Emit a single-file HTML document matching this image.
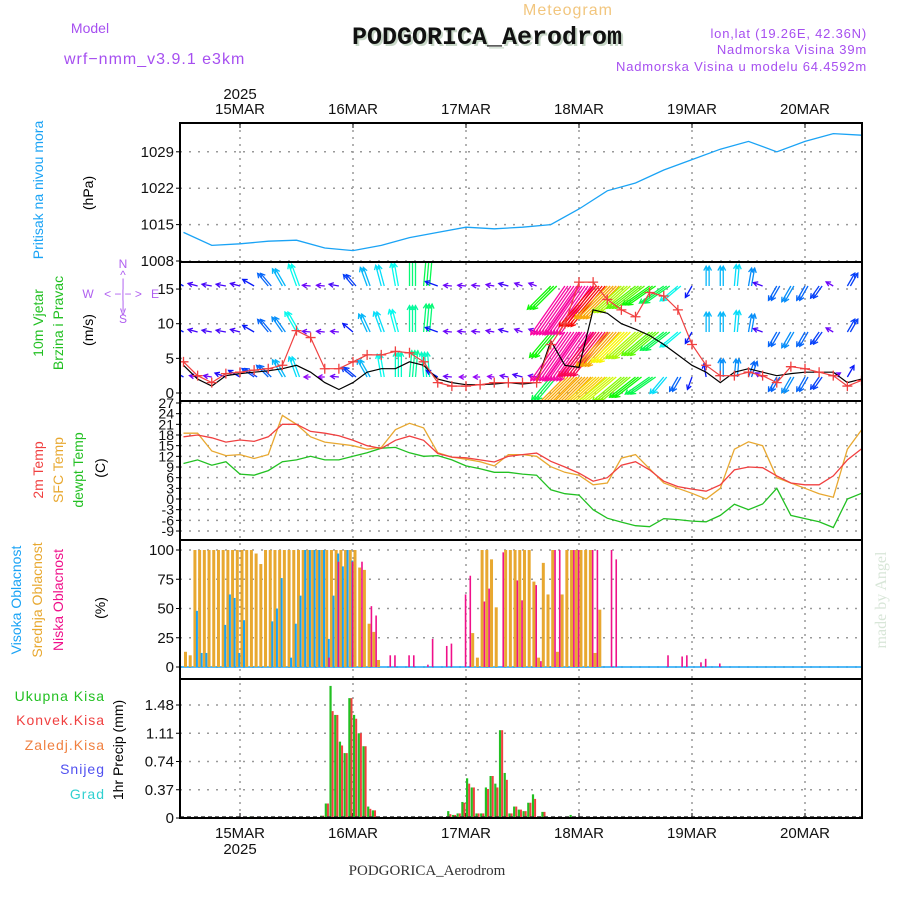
<!DOCTYPE html>
<html><head><meta charset="utf-8"><style>
html,body{margin:0;padding:0;background:#fff;}
#wrap{position:relative;width:900px;height:900px;overflow:hidden;font-family:"Liberation Sans",sans-serif;}
.mono{font-family:"Liberation Mono",monospace;}
.serif{font-family:"Liberation Serif",serif;}
</style></head><body>
<div id="wrap">
<svg id="chart" width="900" height="900" viewBox="0 0 900 900" xmlns="http://www.w3.org/2000/svg" font-family="Liberation Sans, sans-serif">
<g id="header">
<text x="568" y="15" font-size="16" fill="#f2c67e" text-anchor="middle" letter-spacing="1">Meteogram</text>
<text x="90" y="33" font-size="14" fill="#a64ff0" text-anchor="middle">Model</text>
<text x="64" y="64" font-size="16" fill="#a64ff0" letter-spacing="1">wrf−nmm_v3.9.1 e3km</text>
<text class="mono" x="487" y="44" font-size="25" font-weight="bold" fill="#c8d8c8" text-anchor="middle" transform="translate(2,2)">PODGORICA_Aerodrom</text>
<text class="mono" x="487" y="44" font-size="25" font-weight="bold" fill="#111" text-anchor="middle">PODGORICA_Aerodrom</text>
<text x="867" y="38" font-size="13" fill="#a64ff0" text-anchor="end" letter-spacing="0.8">lon,lat (19.26E, 42.36N)</text>
<text x="867" y="54" font-size="13" fill="#a64ff0" text-anchor="end" letter-spacing="0.8">Nadmorska Visina 39m</text>
<text x="867" y="71" font-size="13" fill="#a64ff0" text-anchor="end" letter-spacing="0.8">Nadmorska Visina u modelu 64.4592m</text>
</g>
<g id="leftlabels" font-size="14">
<text transform="translate(43,190) rotate(-90)" fill="#1aa3f5" text-anchor="middle">Pritisak na nivou mora</text>
<text transform="translate(93,193) rotate(-90)" fill="#000" text-anchor="middle">(hPa)</text>
<text transform="translate(43,323) rotate(-90)" fill="#22c022" text-anchor="middle">10m Vjetar</text>
<text transform="translate(63,323) rotate(-90)" fill="#22c022" text-anchor="middle">Brzina i Pravac</text>
<text transform="translate(93,330) rotate(-90)" fill="#000" text-anchor="middle">(m/s)</text>
<g fill="#b060f0" font-size="12" text-anchor="middle">
<text x="123" y="268">N</text><text x="123" y="279">^</text><text x="123" y="287">|</text>
<text x="88" y="298">W</text><text x="123" y="298">&lt;  −|−  &gt;</text><text x="155" y="298">E</text>
<text x="123" y="309">|</text><text x="123" y="315">v</text><text x="123" y="323">S</text>
</g>
<text transform="translate(43,470) rotate(-90)" fill="#f04040" text-anchor="middle">2m Temp</text>
<text transform="translate(63,470) rotate(-90)" fill="#e8a830" text-anchor="middle">SFC Temp</text>
<text transform="translate(83,470) rotate(-90)" fill="#22c022" text-anchor="middle">dewpt Temp</text>
<text transform="translate(105,468) rotate(-90)" fill="#000" text-anchor="middle">(C)</text>
<text transform="translate(21,600) rotate(-90)" fill="#1aa3f5" text-anchor="middle">Visoka Oblacnost</text>
<text transform="translate(42,600) rotate(-90)" fill="#e8a830" text-anchor="middle">Srednja Oblacnost</text>
<text transform="translate(63,600) rotate(-90)" fill="#f0108a" text-anchor="middle">Niska Oblacnost</text>
<text transform="translate(105,608) rotate(-90)" fill="#000" text-anchor="middle">(%)</text>
<text x="105" y="701" fill="#22c022" text-anchor="end" letter-spacing="1">Ukupna  Kisa</text>
<text x="105" y="725" fill="#f04040" text-anchor="end" letter-spacing="1">Konvek.Kisa</text>
<text x="105" y="750" fill="#f08040" text-anchor="end" letter-spacing="1">Zaledj.Kisa</text>
<text x="105" y="774" fill="#5050f0" text-anchor="end" letter-spacing="1">Snijeg</text>
<text x="105" y="799" fill="#30d0d0" text-anchor="end" letter-spacing="1">Grad</text>
<text transform="translate(123,750) rotate(-90)" fill="#000" text-anchor="middle">1hr Precip (mm)</text>
<text class="serif" transform="translate(886,600) rotate(-90)" fill="#d8e6d8" font-size="16" text-anchor="middle">made by Angel</text>
<text class="serif" x="427" y="875" fill="#333" font-size="15" text-anchor="middle">PODGORICA_Aerodrom</text>
</g>
<g id="grid"></g>
<g id="marks"></g>
<g id="frames"></g>
</svg>
</div>
<script>
// ---- data ----
const dayLabels = ["15MAR","16MAR","17MAR","18MAR","19MAR","20MAR"];
const yearLabel = "2025";
const pressureTicks = [1008,1015,1022,1029];
const windTicks = [0,5,10,15];
const tempTicks = [27,24,21,18,15,12,9,6,3,0,-3,-6,-9];
const cloudTicks = [0,25,50,75,100];
const precipTicks = [0,0.37,0.74,1.11,1.48];
// 6-hourly pressure from 14MAR 12UTC
const pressure = [1013.5,1011,1011.3,1011.8,1012,1010.5,1010,1011,1012.5,1013.5,1014.5,1014.2,1014.5,1015,1018,1021.5,1023,1025.5,1027.5,1029.5,1031,1029,1031,1032.5,1032.2];
// 3-hourly series from 14MAR 12UTC
const windRed = [4.5,2.5,1.5,2.8,3,3.3,3.5,4,9,8,3.5,3.5,4.5,5.5,5.5,6,5.8,4.5,1.5,1,1,1.2,1.5,1.5,1.5,1.5,7,10,16,16,13.5,12,11,14.5,14,12,7,4,2.5,2.5,3,2.5,1.5,3.8,3.5,3,2.5,1,1.8];
const windBlack = [4,2,1,2.5,2.8,3,3.2,3.5,4,3,1.5,0.5,1.5,3,3.5,3.5,4.5,4,2,1.5,1.2,1.2,1.3,1.5,1.3,1.5,7.5,4,3.7,12,11.5,10,9.2,8.3,7,5.5,4,3,1.5,3,3.5,3,2.5,2.8,3,3,3,1.5,2];
const row1Dir = [300,280,280,290,300,305,315,330,340,270,270,275,310,330,350,0,5,355,300,275,270,270,275,280,285,280,220,225,225,228,230,230,232,235,220,210,200,350,0,5,20,300,210,210,210,215,60,30,25];
const row1Spd = [4,2.5,2.5,3.5,4,4.5,5,6,6.5,2,2,2.5,4.5,6,7,7.5,8,7.5,4,2.5,2,2,2,2.5,3,2.5,9,14,14,13.5,12.5,11.5,10,9,6.5,5,4,4,5.5,5.5,5,2.5,5,5.5,5,4.5,2.5,4,4.5];
const row2Dir = [300,285,280,280,285,300,320,325,330,275,275,275,310,335,340,345,0,5,290,275,275,275,280,285,290,290,220,215,215,218,222,225,228,230,232,230,210,0,0,5,10,290,210,210,210,215,300,30,30];
const row2Spd = [4,3,3,3,3,4,5,5.5,7,2.5,2.5,2.5,4,6,6.5,7,8,8.5,4,2.5,2.5,2.5,2.5,3,2.5,2.5,10,18,18,17,14,13,12,11,9,7,4,6,6,6.5,5.5,3,5,5.5,5,4.5,2.5,4.5,5];
const row3Dir = [300,285,280,280,285,300,320,330,340,275,275,280,320,340,345,350,0,5,290,275,275,275,280,285,290,290,225,215,215,220,225,228,232,235,235,230,210,0,0,5,10,290,210,210,210,215,300,30,30];
const row3Spd = [4,3,3,3,3,4,5,6,7,2.5,2.5,3,4.5,6,6.5,7,8.5,9,4,2.5,2.5,2.5,2.5,3,2.5,2.5,10,18,18,16,14,12,11,10,9,7,4,6,6,6.5,5.5,3,5,5.5,5,4.5,2.5,4.5,5];
const temp2m = [17.5,18,17.2,16,16.6,16.2,17.5,21,21,19,18.5,17.8,16.5,15,14.2,16.5,17.7,16.5,12.8,11.8,11.6,11,10.4,12,12.5,12.9,10.6,9,7.3,5,6,9.5,10.5,8.2,5,3.5,2.8,2.2,4,8.2,9,8.8,6.5,4.5,4,4,6.5,11,14.1];
const tempSfc = [18.5,18.5,13.5,12.2,12.5,11.4,12.5,23.5,21,17.5,16,15.5,15,14,14.5,19.5,21.3,20,13,11.8,11.2,10.5,9.3,12.5,12.5,12,9.1,7.5,6.7,4,4.5,11.5,12.5,8.5,4.5,3,1.6,0,3,14,16.1,15,6,4.5,3,1.5,0.5,14,19.4];
const tempDew = [10,11,9.5,10.5,7,6.7,8,10.5,11,12,11,11,12,13,14.3,14.5,13,12,12.2,11,9.3,8.5,7.5,7.5,7,6.7,2.6,1.5,1.1,-3,-5.4,-6.5,-7.5,-7.8,-5.5,-5.8,-6.2,-6.4,-4.6,-1.5,-3,-1.4,3,-4.6,-5.5,-6.4,-8,0,1.6];
// hourly cloud cover (%) starting 14MAR ~12UTC
const cloudMid = [13,10,100,100,100,100,100,100,100,100,100,100,100,100,100,97,88,100,100,100,100,100,100,100,100,100,100,100,100,100,100,100,100,100,100,100,100,85,83,37,30,6,0,0,0,0,0,0,0,0,0,0,0,0,0,0,0,0,0,0,0,29,8,100,100,92,51,0,100,100,100,100,100,100,73,8,89,62,100,13,62,100,100,100,100,100,100,12,49];
const cloudHigh = [0,0,48,12,12,0,0,0,36,62,59,12,40,0,0,0,0,0,39,50,76,0,8,37,61,100,100,100,100,100,24,61,97,86,100,91];
const cloudLow = [0,0,0,0,0,0,0,0,0,0,0,0,0,0,0,0,0,0,0,0,0,0,0,0,0,0,0,0,0,0,8,0,90,0,0,90,0,90,0,52,44,0,0,10,10,0,0,10,10,0,0,2,24,0,0,18,20,0,0,62,78,0,0,56,67,0,0,98,0,0,74,57,0,0,70,5,0,0,100,100,0,0,100,100,0,0,100,100,0,0,100,92,0,0,0,0,0,0,0,0,0,0,10,0,0,9,10,0,0,4,7,0,0,3];
// hourly precipitation (mm)
const precipTotal = [0,0,0,0,0,0,0,0,0,0,0,0,0,0,0.02,0,0,0,0,0,0,0,0,0,0,0,0,0,0,0.03,0.19,1.73,1.35,1.0,0.85,1.57,1.35,1.11,0.94,0.15,0.1,0,0,0,0,0,0,0,0,0,0,0,0,0,0,0,0.09,0.04,0.06,0.21,0.52,0.4,0.06,0.06,0.4,0.55,0.45,1.15,0.59,0.06,0.15,0.11,0.09,0.2,0.31,0,0.08,0,0,0,0,0,0.04];
const precipConv = [0,0,0,0,0,0,0,0,0,0,0,0,0,0,0.02,0,0,0,0,0,0,0,0,0,0,0,0,0,0,0.03,0.19,1.4,1.35,0.95,0.85,1.57,1.3,1.11,0.94,0.12,0.1,0,0,0,0,0,0,0,0,0,0,0,0,0,0,0,0.05,0.04,0.06,0.2,0.45,0.4,0.06,0.06,0.38,0.55,0.4,1.15,0.5,0.06,0.15,0.11,0.09,0.2,0.25,0,0.08,0,0,0,0,0,0];

// ---- scales ----
const L=180,R=862;
const P={pres:[123,262],wind:[262,401],temp:[401,540],cloud:[540,679],prec:[679,818]};
const day0=240, pxDay=113;
const xDay=d=>day0+d*pxDay;
const tStart=-0.5;
const yPres=v=>261-(v-1008)*5.2;
const yWind=v=>393-v*6.93;
const yTemp=v=>403+(27-v)*3.556;
const yCloud=v=>667-v*1.17;
const yPrec=v=>818-v*76.35;
const NS="http://www.w3.org/2000/svg";
function mk(tag,attrs,parent){const e=document.createElementNS(NS,tag);for(const k in attrs)e.setAttribute(k,attrs[k]);parent.appendChild(e);return e;}
const grid=document.getElementById('grid'), marks=document.getElementById('marks'), frames=document.getElementById('frames');

const defs=mk('defs',{},document.getElementById('chart'));
for(const k in P){const c=mk('clipPath',{id:'clip-'+k},defs);mk('rect',{x:L,y:P[k][0],width:R-L,height:P[k][1]-P[k][0]},c);}

dayLabels.forEach((lab,i)=>{
  const x=xDay(i);
  const gl=mk('line',{x1:x,x2:x,y1:123,y2:818,stroke:'#999','stroke-width':1.5,'stroke-dasharray':'2,5'},grid);
  
  
  const t=mk('text',{x:x,y:114,'font-size':15,'text-anchor':'middle',fill:'#111'},grid);t.textContent=lab;
  
  
  const b=mk('text',{x:x,y:838,'font-size':15,'text-anchor':'middle',fill:'#111'},grid);b.textContent=lab;
  
  
  mk('line',{x1:x,x2:x,y1:123,y2:128,stroke:'#000'},grid);
  mk('line',{x1:x,x2:x,y1:813,y2:818,stroke:'#000'},grid);
});
[[99,'top-year-label'],[854,'bottom-year-label']].forEach(([y,n])=>{
  const t=mk('text',{x:xDay(0),y:y,'font-size':15,'text-anchor':'middle',fill:'#111'},grid);t.textContent=yearLabel;
  
  
});

function hTicks(ticks,yf,fmt,name,fs){
  ticks.forEach(v=>{
    const y=yf(v);
    mk('line',{x1:L,x2:R,y1:y,y2:y,stroke:'#999','stroke-width':1.5,'stroke-dasharray':'2,7'},grid);
    mk('line',{x1:L-4,x2:L,y1:y,y2:y,stroke:'#000'},grid);
    const t=mk('text',{x:L-6,y:y+5,'font-size':fs||15,'text-anchor':'end',fill:'#111'},grid);t.textContent=fmt?fmt(v):v;
    
    
  });
}
hTicks(pressureTicks,yPres,null,'pressure-tick');
hTicks(windTicks,yWind,null,'wind-tick');
hTicks(tempTicks,yTemp,null,'temp-tick',14);
hTicks(cloudTicks,yCloud,null,'cloud-tick');
hTicks(precipTicks,yPrec,v=>v===0?'0':v.toFixed(2),'precip-tick');

function linePath(arr,step,yf){return arr.map((v,i)=>(i?'L':'M')+xDay(tStart+i*step).toFixed(1)+','+yf(v).toFixed(1)).join(' ');}

const gp=mk('g',{'clip-path':'url(#clip-pres)'},marks);
const pl=mk('path',{d:linePath(pressure,0.25,yPres),fill:'none',stroke:'#1aa3f5','stroke-width':1.3},gp);



const gw=mk('g',{'clip-path':'url(#clip-wind)'},marks);
function hue(s){return ((275-(s-2)*19.6)%360+360)%360;}
function arrows(dirs,spds,base,name){
  dirs.forEach((d,i)=>{
    const x=xDay(tStart+i*0.125), s=spds[i], Lp=s*3.3, a=d*Math.PI/180;
    const x2=x+Lp*Math.sin(a), y2=base-Lp*Math.cos(a);
    const col='hsl('+hue(s)+',95%,50%)';
    const g=mk('g',{stroke:col,'stroke-width':1.3,fill:'none'},gw);
    
    
    const n=Math.max(1,Math.round(s/3));
    for(let k=0;k<n;k++){
      const dx=k*3;
      mk('line',{x1:x+dx,y1:base,x2:x2+dx,y2:y2},g);
      const ha=a+Math.PI;
      mk('path',{d:`M${x2+dx+5*Math.sin(ha-0.5)},${y2-5*Math.cos(ha-0.5)} L${x2+dx},${y2} L${x2+dx+5*Math.sin(ha+0.5)},${y2-5*Math.cos(ha+0.5)}`},g);
    }
  });
}
arrows(row1Dir,row1Spd,377,'wind-arrow-10m');
arrows(row2Dir,row2Spd,332,'wind-arrow-mid');
arrows(row3Dir,row3Spd,286,'wind-arrow-high');
const wb=mk('path',{d:linePath(windBlack,0.125,yWind),fill:'none',stroke:'#000','stroke-width':1.2},gw);


const wr=mk('path',{d:linePath(windRed,0.125,yWind),fill:'none',stroke:'#f04040','stroke-width':1.2},gw);


windRed.forEach((v,i)=>{
  const x=xDay(tStart+i*0.125),y=yWind(v);
  const c=mk('path',{d:`M${x-5},${y}H${x+5}M${x},${y-5}V${y+5}`,stroke:'#f04040','stroke-width':1.3},gw);
  
  
});

const gt=mk('g',{'clip-path':'url(#clip-temp)'},marks);
[[tempDew,'#22c022','dewpoint-line'],[tempSfc,'#e8a830','sfc-temp-line'],[temp2m,'#f04040','temp-2m-line']].forEach(([arr,c,n])=>{
  const p=mk('path',{d:linePath(arr,0.125,yTemp),fill:'none',stroke:c,'stroke-width':1.3},gt);
  
  
});

const gc=mk('g',{'clip-path':'url(#clip-cloud)'},marks);
const hx=i=>185+i*4.708;
mk('line',{x1:L,x2:R,y1:667,y2:667,stroke:'#1aa3f5','stroke-width':1.5},gc);
cloudMid.forEach((v,i)=>{ if(v<=0)return;
  const r=mk('rect',{x:hx(i)-1,y:yCloud(v),width:3,height:667-yCloud(v),fill:'#e8a830'},gc);
  
  
});
cloudHigh.forEach((v,i)=>{ if(v<=0)return;
  const r=mk('rect',{x:hx(i)+1.5,y:yCloud(v),width:2,height:667-yCloud(v),fill:'#1aa3f5'},gc);
  
  
});
cloudLow.forEach((v,i)=>{ if(v<=0)return;
  const r=mk('rect',{x:hx(i)+2,y:yCloud(v),width:1.6,height:667-yCloud(v),fill:'#f0108a'},gc);
  
  
});

const gpr=mk('g',{'clip-path':'url(#clip-prec)'},marks);
precipTotal.forEach((v,i)=>{ if(v<=0)return;
  const r=mk('rect',{x:hx(i)-1.5,y:yPrec(v),width:2.2,height:818-yPrec(v),fill:'#22c022'},gpr);
  
  
});
precipConv.forEach((v,i)=>{ if(v<=0)return;
  const r=mk('rect',{x:hx(i)+0.7,y:yPrec(v),width:2,height:818-yPrec(v),fill:'#f04040'},gpr);
  
  
});
mk('line',{x1:L,x2:R,y1:817,y2:817,stroke:'#333','stroke-width':1.5,'stroke-dasharray':'4,3'},gpr);

for(const k in P){
  const f=mk('rect',{x:L,y:P[k][0],width:R-L,height:P[k][1]-P[k][0],fill:'none',stroke:'#000','stroke-width':2},frames);
  
  
}
</script>
</body></html>
